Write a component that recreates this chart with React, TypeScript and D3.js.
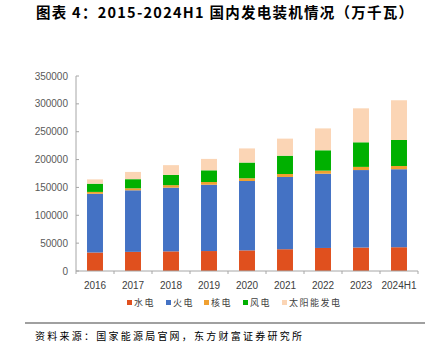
import React from "react";
import * as d3 from "d3";

const categories = ["2016", "2017", "2018", "2019", "2020", "2021", "2022", "2023", "2024H1"];
const hydro = [33207, 34359, 35226, 35804, 37016, 39092, 41350, 42154, 42671];
const thermal = [105388, 110495, 114408, 119055, 124517, 129678, 133239, 139032, 140000];
const nuclear = [3364, 3582, 4466, 4874, 4989, 5326, 5553, 5691, 5808];
const wind = [14747, 16367, 18426, 21005, 28153, 32848, 36544, 44134, 46671];
const solar = [7742, 13025, 17463, 20468, 25343, 30656, 39261, 60949, 71293];
const seriesNames = ["水电", "火电", "核电", "风电", "太阳能发电"];
const seriesColors = ["#E0501E", "#4472C4", "#F0A030", "#00B000", "#FBD5B5"];
const yTicks = [0, 50000, 100000, 150000, 200000, 250000, 300000, 350000];
const title = "图表 4：2015-2024H1 国内发电装机情况（万千瓦）";
const source = "资料来源：国家能源局官网，东方财富证券研究所";

export default function App() {
  const W = 441, H = 347;
  const left = 76, right = 418, top = 76, bottom = 271;
  const x = d3.scaleBand().domain(categories).range([left, right]).paddingInner(0.58).paddingOuter(0.29);
  const y = d3.scaleLinear().domain([0, 350000]).range([bottom, top]);
  const keys = ["hydro", "thermal", "nuclear", "wind", "solar"];
  const rows = categories.map((c, i) => ({
    cat: c, hydro: hydro[i], thermal: thermal[i], nuclear: nuclear[i], wind: wind[i], solar: solar[i],
  }));
  const stacked = d3.stack<any>().keys(keys)(rows);
  const step = x.step();
  const boundaries = d3.range(categories.length + 1).map((i) => left + i * step);
  const legendX = [127, 166, 204, 243, 282];
  const legendY = 303;
  const sans = "'Liberation Sans', Arial, sans-serif";
  const cjk = "'Noto Sans CJK SC', sans-serif";

  return (
    <svg width={W} height={H} style={{ position: "absolute", left: 0, top: 0, background: "#fff" }}>
      <rect width={W} height={H} fill="#fff" />
      <text x={36} y={18} fontFamily={cjk} fontWeight="bold" fontSize={14.5} fill="#000"
        textLength={377} lengthAdjust="spacing">{title}</text>

      {stacked.map((s, si) => (
        <g key={si} fill={seriesColors[si]}>
          {s.map((d: any, i: number) => (
            <rect key={i} x={x(categories[i])} width={x.bandwidth()}
              y={y(d[1])} height={y(d[0]) - y(d[1])} />
          ))}
        </g>
      ))}

      {/* y axis */}
      <line x1={left} x2={left} y1={top} y2={bottom} stroke="#A6A6A6" strokeWidth={1} />
      {yTicks.map((t) => (
        <g key={t}>
          <line x1={left} x2={left + 3} y1={y(t)} y2={y(t)} stroke="#A6A6A6" />
          <text x={68} y={y(t)} dy="0.35em" textAnchor="end" fontFamily={sans} fontSize={10} fill="#595959">{t}</text>
        </g>
      ))}
      {/* x axis */}
      <line x1={left} x2={right} y1={bottom} y2={bottom} stroke="#A6A6A6" strokeWidth={1} />
      {boundaries.map((b, i) => (
        <line key={i} x1={b} x2={b} y1={bottom} y2={bottom + 3} stroke="#A6A6A6" />
      ))}
      {categories.map((c) => (
        <text key={c} x={(x(c) as number) + x.bandwidth() / 2} y={289} textAnchor="middle"
          fontFamily={sans} fontSize={10} fill="#404040">{c}</text>
      ))}

      {/* legend */}
      {seriesNames.map((n, i) => (
        <g key={n}>
          <rect x={legendX[i]} y={legendY - 3} width={5} height={5} fill={seriesColors[i]} />
          <text x={legendX[i] + 7} y={legendY + 3} fontFamily={cjk} fontSize={9} fill="#404040"
            letterSpacing={1.5}>{n}</text>
        </g>
      ))}

      {/* source */}
      <line x1={25} x2={425} y1={323} y2={323} stroke="#808080" strokeWidth={1.5} />
      <text x={35} y={340} fontFamily={cjk} fontSize={10} fill="#000" textLength={267}
        lengthAdjust="spacing">{source}</text>
    </svg>
  );
}
